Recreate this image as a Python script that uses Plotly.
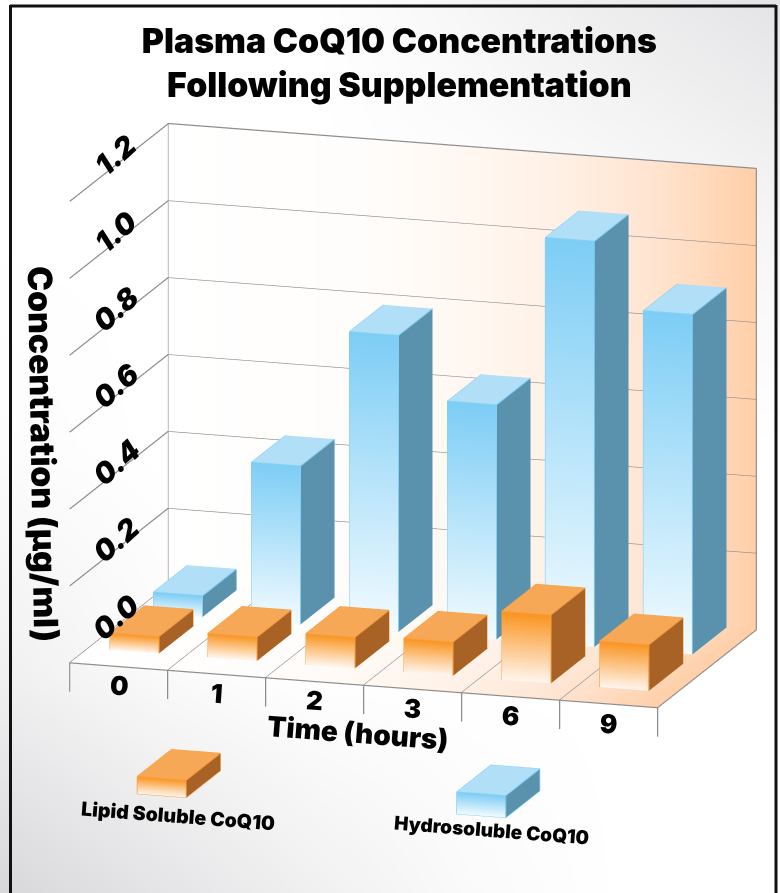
import plotly.graph_objects as go

TITLE = "Plasma CoQ10 Concentrations<br>Following Supplementation"
CATEGORIES = ["0", "1", "2", "3", "6", "9"]
Z_TICKS = [0.0, 0.2, 0.4, 0.6, 0.8, 1.0, 1.2]
Z_LABELS = ["0.0", "0.2", "0.4", "0.6", "0.8", "1.0", "1.2"]
LIPID = [0.044, 0.062, 0.081, 0.088, 0.178, 0.120]
HYDRO = [0.055, 0.412, 0.771, 0.610, 1.055, 0.884]

FONT = "Inter"
GRID = "#8c8c8c"
BLUE = dict(top="#b0dff7", side="#5a92ae", hi="#7dcdf5", lo="#f2fbff", edge="#84d0f5")
ORANGE = dict(top="#f6a857", side="#a86226", hi="#f9941f", lo="#fff6ee", edge="#f9a040")

N = len(CATEGORIES)
XR, YR, ZR = [-1, 7], [-0.2, 1.2], [-0.5, 1.3]
SCALE = 1.379
AX, AY, AZ = SCALE * 8 / 6, SCALE * 1.4 * 0.54, SCALE * 1.8 * 0.641 * 1.005


class Mesh:
    def __init__(self):
        self.x, self.y, self.z, self.c, self.i, self.j, self.k = [], [], [], [], [], [], []

    def quad(self, pts, cols):
        n = len(self.x)
        for p, col in zip(pts, cols):
            self.x.append(p[0]); self.y.append(p[1]); self.z.append(p[2]); self.c.append(col)
        self.i += [n, n]; self.j += [n + 1, n + 2]; self.k += [n + 2, n + 3]

    def trace(self):
        return go.Mesh3d(x=self.x, y=self.y, z=self.z, i=self.i, j=self.j, k=self.k,
                         vertexcolor=self.c, hoverinfo="skip", showscale=False,
                         lighting=dict(ambient=1, diffuse=0, specular=0, fresnel=0, roughness=1),
                         lightposition=dict(x=0, y=0, z=1000))


class Lines:
    def __init__(self):
        self.x, self.y, self.z = [], [], []

    def seg(self, *pts):
        for p in pts:
            self.x.append(p[0]); self.y.append(p[1]); self.z.append(p[2])
        self.x.append(None); self.y.append(None); self.z.append(None)

    def trace(self, color, width):
        return go.Scatter3d(x=self.x, y=self.y, z=self.z, mode="lines",
                            line=dict(color=color, width=width), hoverinfo="skip", showlegend=False)


def box(m, l, c0, d0, h, pal, b=0.0, w=0.5, dep=0.345):
    c1, d1, t = c0 + w, d0 + dep, b + h
    m.quad([(c0, d0, b), (c1, d0, b), (c1, d0, t), (c0, d0, t)], [pal["lo"], pal["lo"], pal["hi"], pal["hi"]])
    m.quad([(c1, d0, b), (c1, d1, b), (c1, d1, t), (c1, d0, t)], [pal["side"]] * 4)
    m.quad([(c0, d0, t), (c1, d0, t), (c1, d1, t), (c0, d1, t)], [pal["top"]] * 4)
    l.seg((c0, d0, b), (c1, d0, b), (c1, d1, b), (c1, d1, t), (c0, d1, t), (c0, d0, t), (c0, d0, b))
    l.seg((c0, d0, t), (c1, d0, t), (c1, d1, t))
    l.seg((c1, d0, t), (c1, d0, b))


traces = []

# background wash on a hidden cartesian axis
bg = [[216, 228, 240, 250, 255, 255],
      [240, 250, 255, 255, 255, 255],
      [252, 255, 255, 255, 255, 255],
      [255, 255, 255, 255, 251, 245],
      [255, 255, 255, 246, 236, 228]]
traces.append(go.Heatmap(z=bg, x=[0, 0.2, 0.4, 0.6, 0.8, 1], y=[0, 0.25, 0.5, 0.75, 1],
                         colorscale=[[0, "rgb(216,216,219)"], [1, "rgb(255,255,255)"]], zmin=216, zmax=255,
                         zsmooth="best", showscale=False, hoverinfo="skip"))

# walls
stops = [(0, "#ffffff"), (2, "#fffdfb"), (3, "#fff8f2"), (4, "#fff0e5"), (5, "#ffe3cf"), (6, "#ffcfa8")]
wall = Mesh()
for (a, ca), (b, cb) in zip(stops[:-1], stops[1:]):
    wall.quad([(a, 1, 0), (b, 1, 0), (b, 1, 1.2), (a, 1, 1.2)], [ca, cb, cb, ca])
    wall.quad([(a, 0, 0), (b, 0, 0), (b, 1, 0), (a, 1, 0)], [ca, cb, cb, ca])
traces.append(wall.trace())

# grid
g = Lines()
for t in Z_TICKS:
    g.seg((0, 0, t), (0, 1, t), (N, 1, t))
g.seg((0, 1, 0), (0, 1, 1.2))
g.seg((N, 1, 0), (N, 1, 1.2))
g.seg((0, 0, 0), (N, 0, 0))
for k in range(N + 1):
    g.seg((k, 0, -0.075), (k, 0, 0), (k, 1, 0))
traces.append(g.trace(GRID, 2.4))

# bars
bm, bl = Mesh(), Lines()
om, ol = Mesh(), Lines()
for idx in range(N):
    box(bm, bl, idx + 0.195, 0.655, HYDRO[idx], BLUE)
    box(om, ol, idx + 0.22, 0.19, LIPID[idx], ORANGE)

# legend keys
box(om, ol, 0.69, 0, 0.045, ORANGE, b=-0.327)
box(bm, bl, 3.95, 0, 0.057, BLUE, b=-0.316)

traces += [bm.trace(), bl.trace(BLUE["edge"], 2), om.trace(), ol.trace(ORANGE["edge"], 2)]

fig = go.Figure(traces)

scene_ann = []
for v, t in zip(Z_TICKS, Z_LABELS):
    scene_ann.append(dict(x=0, y=0.47, z=v + 0.026, text=t, showarrow=False, textangle=-42,
                          font=dict(family=FONT, size=29, color="black", weight=900, style="italic")))
for i, t in enumerate(CATEGORIES):
    scene_ann.append(dict(x=i + 0.5, y=0, z=-0.05, text=t, showarrow=False, textangle=4,
                          font=dict(family=FONT, size=26, color="black", weight=900)))

# camera: orthographic view that yields the chart's oblique axes
cx, cy, cz = -0.0392 * SCALE, 0.0, 0.0767 * SCALE - 0.0035
dx, dy, dz = 0.288, -0.9255, 0.2453
r = 1.748

fig.update_layout(
    width=780, height=893, margin=dict(l=0, r=0, t=0, b=0), showlegend=False,
    paper_bgcolor="white", plot_bgcolor="white",
    title=dict(text=TITLE, x=0.512, xanchor="center", y=0.941, yanchor="top",
               font=dict(family=FONT, size=33.8, color="black", weight=900)),
    xaxis=dict(visible=False, range=[0, 1], domain=[0, 1]),
    yaxis=dict(visible=False, range=[0, 1], domain=[0, 1]),
    scene=dict(
        domain=dict(x=[0, 1], y=[0, 1]),
        xaxis=dict(visible=False, range=XR),
        yaxis=dict(visible=False, range=YR),
        zaxis=dict(visible=False, range=ZR),
        aspectmode="manual", aspectratio=dict(x=AX, y=AY, z=AZ),
        bgcolor="rgba(0,0,0,0)",
        camera=dict(projection=dict(type="orthographic"),
                    up=dict(x=0, y=0, z=1),
                    center=dict(x=cx, y=cy, z=cz),
                    eye=dict(x=cx + dx * r, y=cy + dy * r, z=cz + dz * r)),
        annotations=scene_ann,
    ),
    shapes=[
        dict(type="line", xref="paper", yref="paper", x0=10.5/780, x1=10.5/780, y0=0, y1=1-5/893, line=dict(color="#111", width=3)),
        dict(type="line", xref="paper", yref="paper", x0=10/780, x1=776/780, y0=1-6/893, y1=1-6/893, line=dict(color="#111", width=3)),
        dict(type="line", xref="paper", yref="paper", x0=776/780, x1=776/780, y0=0, y1=1-5/893, line=dict(color="#111", width=3)),
    ],
    annotations=[
        dict(text="Concentration (µg/ml)", xref="paper", yref="paper", x=43/780, y=1-454/893, showarrow=False,
             xanchor="center", yanchor="middle", textangle=89,
             font=dict(family=FONT, size=33.5, color="black", weight=900)),
        dict(text="Time (hours)", xref="paper", yref="paper", x=358/780, y=1-733/893, showarrow=False,
             xanchor="center", yanchor="middle", textangle=4.4,
             font=dict(family=FONT, size=28, color="black", weight=900)),
        dict(text="Lipid Soluble CoQ10", xref="paper", yref="paper", x=178/780, y=1-816/893, showarrow=False,
             xanchor="center", yanchor="middle", textangle=4.4,
             font=dict(family=FONT, size=19.5, color="black", weight=900)),
        dict(text="Hydrosoluble CoQ10", xref="paper", yref="paper", x=491/780, y=1-830/893, showarrow=False,
             xanchor="center", yanchor="middle", textangle=4.4,
             font=dict(family=FONT, size=19, color="black", weight=900)),
    ],
)

fig.write_html("out.html", config={"displayModeBar": False},
               post_script="document.body.style.margin='0';")
